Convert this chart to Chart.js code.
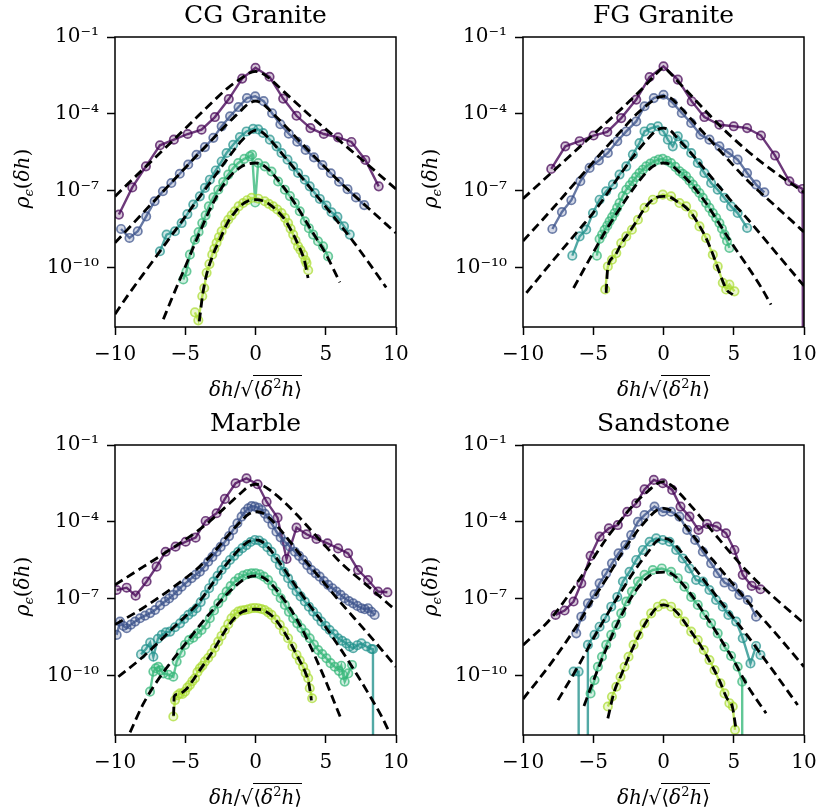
<!DOCTYPE html>
<html><head><meta charset="utf-8">
<script src="https://cdn.jsdelivr.net/npm/chart.js@4.4.1/dist/chart.umd.min.js"></script>
<style>
html,body{margin:0;padding:0;background:#fff;}
#wrap{position:relative;width:818px;height:812px;overflow:hidden;background:#fff;font-family:'DejaVu Serif',serif;color:#000;}
canvas{position:absolute;}
.ttl{position:absolute;width:281px;text-align:center;font-size:25px;line-height:30px;white-space:nowrap;}
.xl{position:absolute;width:281px;text-align:center;font-size:20px;line-height:26px;white-space:nowrap;}
.yl{position:absolute;width:160px;text-align:center;font-size:20px;line-height:26px;white-space:nowrap;transform:rotate(-90deg);}
i{font-style:italic;}
.rad{border-top:1.3px solid #000;padding-top:1px;}
sub{font-size:13px;vertical-align:-4px;}
sup{font-size:13px;vertical-align:8px;}
</style></head><body>
<div id="wrap">
<canvas id="c0" width="409" height="372" style="left:0;top:0"></canvas>
<canvas id="c1" width="409" height="372" style="left:408px;top:0"></canvas>
<canvas id="c2" width="409" height="372" style="left:0;top:408px"></canvas>
<canvas id="c3" width="409" height="372" style="left:408px;top:408px"></canvas>
</div>
<script>
// ---- tick values / labels ----
const X_TICKS = [-10,-5,0,5,10];
const X_TICK_LABELS = ['\u221210','\u22125','0','5','10'];
const Y_TICKS = [1e-10,1e-7,1e-4,1e-1];
const Y_TICK_LABELS = ['10\u207B\u00B9\u2070','10\u207B\u2077','10\u207B\u2074','10\u207B\u00B9'];
const Y_MIN_LOG = -12.3, Y_MAX_LOG = -1;
const TITLES = ['CG Granite','FG Granite','Marble','Sandstone'];
// ---- data: x = δh/sqrt(<δ²h>), y = log10 ρ_ε(δh); -300 marks an empty (zero) bin ----
// CG Granite
const cgX1=[-9.72,-8.77,-7.8,-6.8,-5.81,-4.83,-3.84,-2.89,-1.9,-0.95,0,1.0,1.97,2.92,3.91,4.86,5.88,6.83,7.82,8.77];
const cgY1=[-7.92,-6.86,-6.04,-5.22,-5.0,-4.78,-4.61,-4.12,-3.42,-2.62,-2.2,-2.55,-3.4,-4.07,-4.55,-4.78,-4.91,-5.09,-5.79,-6.82];
const cgX2=[-9.57,-8.97,-8.38,-7.78,-7.18,-6.59,-5.99,-5.39,-4.79,-4.2,-3.6,-3.0,-2.41,-1.81,-1.21,-0.61,-0.02,0.58,1.18,1.77,2.37,2.97,3.57,4.16,4.76,5.36,5.95,6.55,7.15,7.74];
const cgY2=[-8.48,-8.83,-8.57,-7.99,-7.4,-7.01,-6.69,-6.33,-5.97,-5.59,-5.29,-4.93,-4.48,-4.09,-3.73,-3.38,-3.31,-3.5,-3.97,-4.4,-4.77,-5.08,-5.4,-5.69,-5.99,-6.31,-6.64,-6.93,-7.25,-7.55];
const cgX3=[-6.8,-6.33,-5.73,-5.26,-4.85,-4.43,-3.96,-3.6,-3.25,-2.83,-2.41,-2.06,-1.59,-1.11,-0.64,-0.17,0.2,0.54,1.02,1.5,1.85,2.28,2.68,3.03,3.51,3.86,4.22,4.58,5.05,5.41,5.83,6.3,6.71];
const cgY3=[-9.35,-8.7,-8.57,-8.25,-7.9,-7.53,-7.21,-6.88,-6.56,-6.2,-5.85,-5.52,-5.2,-4.9,-4.68,-4.58,-4.6,-4.74,-5.0,-5.26,-5.52,-5.78,-6.04,-6.3,-6.56,-6.82,-7.08,-7.31,-7.57,-7.83,-8.01,-8.38,-8.7];
const cgX4=[-5.14,-4.91,-4.67,-4.31,-4.05,-3.79,-3.55,-3.32,-3.0,-2.65,-2.3,-1.94,-1.6,-1.23,-0.8,-0.4,-0.24,-0.02,0.19,0.66,1.14,1.61,2.09,2.45,2.8,3.15,3.51,3.8,4.1,4.45,4.81,5.17];
const cgY4=[-10.45,-10.13,-9.48,-8.9,-8.6,-8.25,-7.95,-7.6,-7.25,-6.95,-6.65,-6.36,-6.12,-5.91,-5.75,-5.65,-5.59,-7.45,-5.91,-6.04,-6.24,-6.63,-6.95,-7.2,-7.47,-7.79,-8.18,-8.45,-8.7,-8.96,-9.16,-9.55];
const cgX5=[-4.31,-4.07,-3.79,-3.65,-3.48,-3.28,-3.08,-2.93,-2.77,-2.6,-2.41,-2.15,-1.94,-1.7,-1.47,-1.2,-0.88,-0.6,-0.28,0.2,0.66,0.95,1.26,1.55,1.85,2.1,2.32,2.5,2.68,2.85,3.03,3.2,3.39,3.55,3.63,3.75];
const cgY5=[-11.73,-12.04,-11.1,-10.78,-10.19,-9.85,-9.48,-9.25,-9.02,-8.8,-8.57,-8.3,-8.12,-7.95,-7.79,-7.6,-7.47,-7.36,-7.27,-7.3,-7.4,-7.5,-7.6,-7.72,-7.86,-8.05,-8.25,-8.47,-8.7,-8.93,-9.16,-9.3,-9.48,-9.7,-9.81,-10.09];
const cgFX1=[-10,-8,-6,-4,-3,-2,-1,-0.5,0,0.5,1,2,3,4,6,8,10];
const cgFY1=[-7.21,-6.15,-5.1,-4.03,-3.5,-3.0,-2.6,-2.42,-2.34,-2.42,-2.62,-3.12,-3.62,-4.12,-5.05,-5.98,-6.93];
const cgFX2=[-10,-8,-6,-4,-3,-2,-1,-0.5,0,0.5,1,2,3,4,5,6,8,10];
const cgFY2=[-9.02,-7.85,-6.68,-5.52,-4.95,-4.38,-3.85,-3.6,-3.5,-3.6,-3.85,-4.4,-4.98,-5.55,-6.1,-6.65,-7.65,-8.64];
const cgFX3=[-10,-9,-8,-7,-6,-5,-4,-3,-2,-1,-0.5,0,0.5,1,2,3,4,5,6,7,8,9.3];
const cgFY3=[-11.8,-11.0,-10.25,-9.5,-8.75,-8.0,-7.25,-6.5,-5.75,-5.05,-4.78,-4.64,-4.72,-4.98,-5.62,-6.28,-6.95,-7.62,-8.3,-9.0,-9.75,-10.76];
const cgFX4=[-6.56,-6,-5,-4,-3,-2,-1,-0.5,0,0.5,1,2,3,4,5,6];
const cgFY4=[-12.0,-11.25,-9.95,-8.65,-7.45,-6.55,-6.05,-5.94,-5.91,-5.98,-6.2,-6.85,-7.65,-8.55,-9.45,-10.56];
const cgFX5=[-4.0,-3.75,-3.5,-3,-2.5,-2,-1.5,-1,-0.5,0,0.5,1,1.5,2,2.5,3,3.5,3.74];
const cgFY5=[-12.08,-11.0,-10.3,-9.45,-8.85,-8.25,-7.85,-7.55,-7.38,-7.34,-7.38,-7.52,-7.75,-8.05,-8.5,-9.05,-9.75,-10.39];
// FG Granite
const fgX1=[-7.99,-6.99,-5.97,-4.98,-4.0,-3.01,-1.94,-0.99,0,1.02,2.01,2.91,3.98,5.0,5.95,6.94,7.94,8.96,9.9,10.9];
const fgY1=[-6.14,-5.26,-5.06,-4.84,-4.7,-4.16,-3.44,-2.56,-2.14,-2.66,-3.51,-4.12,-4.42,-4.48,-4.55,-4.84,-5.62,-6.62,-6.92,-300];
const fgX2=[-7.91,-7.23,-6.56,-5.92,-5.26,-4.6,-3.96,-3.29,-2.65,-1.94,-1.35,-0.69,0,0.66,1.3,1.97,2.63,3.27,3.98,4.64,5.28,5.95,6.59,7.18];
const fgY2=[-8.48,-7.82,-7.36,-6.62,-6.1,-5.81,-5.52,-5.06,-4.68,-4.29,-3.7,-3.38,-3.25,-3.57,-3.96,-4.35,-4.81,-5.0,-5.26,-5.52,-5.78,-6.3,-6.75,-7.05];
const fgX3=[-6.49,-5.97,-5.5,-5.02,-4.55,-4.08,-3.6,-3.13,-2.65,-2.18,-1.71,-1.35,-0.88,-0.4,0,0.31,0.66,1.02,1.49,1.97,2.44,2.91,3.39,3.86,4.34,4.81,5.28,5.95];
const fgY3=[-9.52,-8.77,-8.5,-7.86,-7.34,-7.01,-6.75,-6.36,-6.04,-5.58,-5.13,-4.68,-4.55,-4.48,-4.68,-5.0,-5.26,-4.87,-5.19,-5.52,-5.91,-6.3,-6.69,-6.95,-7.27,-7.6,-7.86,-8.44];
const fgX4=[-4.74,-4.55,-4.37,-4.19,-4.0,-3.84,-3.66,-3.48,-3.3,-3.13,-2.9,-2.65,-2.4,-2.18,-1.95,-1.71,-1.47,-1.23,-0.94,-0.64,-0.35,-0.05,0.25,0.54,0.84,1.14,1.37,1.61,1.85,2.09,2.32,2.56,2.8,3.03,3.27,3.51,3.75,3.98,4.16,4.34,4.52,4.69];
const fgY4=[-9.52,-8.87,-8.7,-8.51,-8.35,-8.18,-8.02,-7.86,-7.66,-7.47,-7.2,-6.95,-6.78,-6.62,-6.46,-6.3,-6.17,-6.04,-5.93,-5.84,-5.78,-5.75,-5.82,-5.91,-6.06,-6.23,-6.33,-6.43,-6.6,-6.75,-6.92,-7.08,-7.27,-7.47,-7.66,-7.86,-8.05,-8.25,-8.47,-8.7,-8.95,-9.22];
const fgX5=[-4.15,-3.96,-3.67,-3.36,-3.01,-2.65,-2.25,-1.82,-1.35,-0.76,-0.05,0.54,1.14,1.61,2.09,2.56,3.03,3.51,3.86,4.22,4.46,4.69,5.05];
const fgY5=[-10.84,-9.94,-9.68,-9.42,-9.03,-8.77,-8.51,-8.12,-7.66,-7.34,-7.14,-7.21,-7.47,-7.6,-7.92,-8.38,-8.83,-9.48,-9.94,-10.58,-10.84,-10.65,-10.91];
const fgFX1=[-10,-8,-6,-4,-3,-2,-1,-0.5,0,0.5,1,2,3,4,6,8,10];
const fgFY1=[-7.3,-6.3,-5.3,-4.3,-3.8,-3.28,-2.72,-2.42,-2.21,-2.42,-2.72,-3.3,-3.88,-4.45,-5.45,-6.3,-7.05];
const fgFX2=[-10,-8,-6,-4,-3,-2,-1,-0.5,0,0.5,1,2,3,4,6,8,10];
const fgFY2=[-8.95,-7.75,-6.5,-5.25,-4.65,-4.05,-3.58,-3.38,-3.31,-3.38,-3.62,-4.22,-4.82,-5.42,-6.6,-7.6,-8.6];
const fgFX3=[-9.76,-8,-6,-5,-4,-3,-2,-1,-0.5,0,0.5,1,2,3,4,5,6,8,10];
const fgFY3=[-10.97,-9.8,-8.5,-7.85,-7.1,-6.3,-5.55,-4.9,-4.63,-4.55,-4.65,-4.95,-5.55,-6.2,-6.85,-7.5,-8.1,-9.4,-10.7];
const fgFX4=[-6.4,-5,-4,-3,-2,-1,-0.5,0,0.5,1,2,3,4,5,6,7,7.65];
const fgFY4=[-10.78,-9.4,-8.45,-7.6,-6.8,-6.15,-5.97,-5.91,-5.97,-6.2,-6.75,-7.45,-8.3,-9.15,-9.95,-10.8,-11.43];
const fgFX5=[-4.08,-3.97,-3.5,-3,-2.5,-2,-1.5,-1,-0.5,0,0.5,1,1.5,2,2.5,3,3.5,4,4.5,4.93];
const fgFY5=[-10.97,-10.0,-9.55,-9.05,-8.65,-8.25,-7.8,-7.45,-7.25,-7.21,-7.25,-7.42,-7.6,-7.88,-8.3,-8.8,-9.45,-10.2,-10.85,-11.04];
// Marble
const mbX1=[-9.88,-9.17,-8.53,-7.75,-7.04,-6.4,-5.69,-4.97,-4.26,-3.55,-2.77,-2.18,-1.42,-0.64,0.15,0.79,1.57,2.21,2.92,3.63,4.34,5.12,5.88,6.59,7.3,8.01,8.72,9.39];
const mbY1=[-6.65,-6.56,-6.87,-6.32,-5.74,-5.16,-4.96,-4.77,-4.61,-3.96,-3.66,-3.1,-2.49,-2.3,-2.53,-3.21,-3.83,-5.44,-4.22,-4.48,-4.66,-4.83,-5.03,-5.22,-5.87,-6.26,-6.71,-6.74];
const mbX2=[-9.88,-9.64,-9.4,-9.17,-8.87,-8.57,-8.22,-7.86,-7.5,-7.15,-6.8,-6.44,-6.15,-5.85,-5.55,-5.26,-4.9,-4.55,-4.25,-3.96,-3.66,-3.37,-3.07,-2.77,-2.48,-2.18,-1.88,-1.59,-1.29,-0.99,-0.75,-0.52,-0.28,-0.05,0.2,0.43,0.67,0.9,1.2,1.49,1.79,2.09,2.45,2.8,3.1,3.39,3.68,3.98,4.28,4.57,4.87,5.17,5.47,5.76,6.06,6.35,6.65,6.95,7.25,7.54,7.78,8.01,8.25,8.48];
const mbY2=[-8.4,-7.88,-8.05,-8.14,-8.0,-7.88,-7.75,-7.65,-7.55,-7.43,-7.25,-7.1,-6.98,-6.84,-6.68,-6.52,-6.35,-6.19,-6.05,-5.94,-5.75,-5.55,-5.36,-5.16,-4.97,-4.77,-4.55,-4.31,-4.05,-3.79,-3.6,-3.47,-3.38,-3.4,-3.45,-3.53,-3.68,-3.86,-4.1,-4.38,-4.6,-4.77,-4.96,-5.16,-5.32,-5.48,-5.68,-5.87,-6.0,-6.13,-6.3,-6.45,-6.58,-6.71,-6.84,-6.97,-7.08,-7.17,-7.27,-7.36,-7.4,-7.36,-7.5,-7.62];
const mbX3=[-8.15,-7.8,-7.5,-7.27,-6.95,-6.67,-6.38,-6.08,-5.73,-5.37,-5.08,-4.78,-4.48,-4.19,-3.9,-3.6,-3.3,-3.0,-2.7,-2.41,-2.11,-1.82,-1.52,-1.23,-0.94,-0.64,-0.35,-0.05,0.25,0.54,0.84,1.14,1.43,1.73,2.02,2.32,2.62,2.92,3.21,3.51,3.8,4.1,4.4,4.69,4.99,5.28,5.58,5.88,6.17,6.47,6.7,6.95,7.25,7.54,7.9,8.25,8.36,8.7];
const mbY3=[-9.16,-8.95,-8.7,-9.25,-8.55,-8.4,-8.3,-8.27,-8.1,-7.95,-7.78,-7.62,-7.5,-7.36,-7.12,-6.84,-6.58,-6.32,-6.1,-5.87,-5.67,-5.48,-5.32,-5.16,-5.02,-4.9,-4.78,-4.7,-4.72,-4.83,-4.98,-5.16,-5.42,-5.68,-5.94,-6.19,-6.45,-6.71,-6.9,-7.1,-7.3,-7.49,-7.68,-7.88,-8.05,-8.21,-8.37,-8.53,-8.63,-8.73,-8.85,-8.92,-8.8,-8.73,-8.85,-8.95,-8.96,-300];
const mbX4=[-7.51,-7.27,-7.1,-6.92,-6.74,-6.56,-6.2,-5.85,-5.61,-5.32,-5.02,-4.73,-4.43,-4.14,-3.84,-3.55,-3.25,-2.95,-2.65,-2.36,-2.06,-1.77,-1.47,-1.18,-0.88,-0.58,-0.28,0.01,0.31,0.6,0.9,1.2,1.49,1.79,2.09,2.38,2.68,2.97,3.27,3.56,3.86,4.16,4.46,4.75,5.05,5.34,5.64,5.94,6.1,6.23,6.35,6.6,6.87];
const mbY4=[-10.61,-9.83,-9.7,-9.64,-9.78,-9.9,-9.95,-10.03,-9.44,-9.1,-8.79,-8.6,-8.51,-8.35,-8.21,-8.0,-7.75,-7.45,-7.17,-6.95,-6.71,-6.5,-6.32,-6.18,-6.09,-6.03,-6.0,-6.0,-6.04,-6.13,-6.26,-6.48,-6.71,-6.97,-7.23,-7.5,-7.75,-7.95,-8.14,-8.33,-8.53,-8.78,-8.99,-9.15,-9.31,-9.5,-9.64,-9.8,-9.6,-9.96,-10.22,-9.9,-9.57];
const mbX5=[-5.85,-5.73,-5.55,-5.37,-5.2,-5.02,-4.85,-4.67,-4.49,-4.31,-4.13,-3.96,-3.78,-3.6,-3.37,-3.13,-2.89,-2.65,-2.42,-2.18,-1.94,-1.71,-1.47,-1.23,-1.0,-0.76,-0.52,-0.28,-0.05,0.19,0.42,0.66,0.9,1.14,1.43,1.73,2.02,2.32,2.62,2.92,3.15,3.39,3.57,3.75,3.86,4.03];
const mbY5=[-11.58,-10.94,-10.75,-10.68,-10.7,-10.61,-10.45,-10.35,-10.2,-10.09,-9.85,-9.7,-9.6,-9.44,-9.3,-9.12,-8.9,-8.66,-8.44,-8.21,-7.98,-7.75,-7.6,-7.49,-7.45,-7.43,-7.4,-7.36,-7.35,-7.36,-7.39,-7.43,-7.52,-7.62,-7.8,-8.01,-8.26,-8.53,-8.85,-9.18,-9.4,-9.64,-9.88,-10.09,-10.48,-10.87];
const mbFX1=[-10,-8,-6,-4,-3,-2,-1,-0.5,0,0.5,1,2,3,4,5,6,8,10];
const mbFY1=[-6.45,-5.75,-5.05,-4.3,-3.85,-3.35,-2.85,-2.62,-2.53,-2.58,-2.75,-3.2,-3.75,-4.35,-4.95,-5.55,-6.5,-7.45];
const mbFX2=[-10,-8,-6,-4,-3,-2,-1,-0.5,0,0.5,1,2,3,4,5,6,8,10];
const mbFY2=[-8.0,-7.35,-6.6,-5.75,-5.2,-4.55,-3.95,-3.7,-3.6,-3.65,-3.85,-4.45,-5.15,-5.8,-6.45,-7.1,-8.35,-9.64];
const mbFX3=[-9.76,-8,-6,-4,-3,-2,-1,-0.5,0,0.5,1,2,3,4,5,6,7,8,9,9.55];
const mbFY3=[-10.03,-9.25,-8.2,-7.1,-6.35,-5.6,-4.98,-4.76,-4.7,-4.78,-5.05,-5.8,-6.6,-7.35,-8.1,-8.9,-9.75,-10.65,-11.6,-12.23];
const mbFX4=[-8.93,-8,-7,-6,-5,-4,-3,-2,-1,-0.5,0,0.5,1,2,3,4,5,6,6.12];
const mbFY4=[-12.2,-11.1,-10.2,-9.45,-8.75,-8.05,-7.4,-6.8,-6.3,-6.15,-6.1,-6.15,-6.35,-7.0,-7.85,-8.95,-10.2,-11.55,-11.71];
const mbFX5=[-5.83,-5.79,-5.6,-5,-4,-3,-2,-1.5,-1,-0.5,0,0.5,1,1.5,2,2.5,3,3.5,3.8,3.98];
const mbFY5=[-11.55,-10.8,-10.72,-10.55,-9.8,-9.0,-8.1,-7.75,-7.52,-7.42,-7.4,-7.43,-7.58,-7.85,-8.25,-8.72,-9.25,-9.8,-10.3,-10.95];
// Sandstone
const ssX1=[-7.68,-7.04,-6.4,-5.85,-5.19,-4.55,-3.89,-3.25,-2.58,-1.94,-1.35,-0.69,-0.05,0.62,1.21,1.85,2.49,3.1,3.79,4.45,5.05,5.64,6.28,6.9];
const ssY1=[-7.62,-7.45,-7.1,-6.39,-5.32,-4.57,-4.25,-4.12,-3.6,-3.27,-2.73,-2.36,-2.49,-2.75,-3.4,-3.79,-4.31,-4.08,-4.18,-4.44,-5.09,-6.06,-6.49,-6.62];
const ssX2=[-6.21,-5.85,-5.38,-4.91,-4.55,-4.08,-3.67,-3.2,-2.72,-2.3,-1.82,-1.35,-0.64,-0.05,0.54,1.14,1.68,2.25,2.8,3.39,3.86,4.34,4.93,5.4,6.0,6.59];
const ssY2=[-8.34,-7.69,-7.17,-6.82,-6.39,-6.0,-5.61,-5.22,-4.9,-4.51,-3.99,-3.73,-3.4,-3.6,-3.6,-3.79,-4.31,-4.7,-5.16,-5.61,-6.0,-6.36,-6.52,-6.84,-7.04,-7.69];
const ssX3=[-6.4,-6.04,-5.71,-5.38,-4.91,-4.55,-4.15,-3.72,-3.29,-2.89,-2.42,-1.94,-1.47,-0.99,-0.52,-0.05,0.43,0.9,1.37,1.85,2.32,2.8,3.27,3.74,4.22,4.62,5.17,5.64,6.19,6.59,6.9];
const ssY3=[-9.83,-9.83,-300,-8.79,-8.4,-8.08,-7.75,-7.3,-6.92,-6.32,-5.94,-5.48,-5.09,-4.77,-4.64,-4.7,-4.77,-5.09,-5.42,-5.81,-6.26,-6.32,-6.65,-7.04,-7.3,-7.62,-7.88,-8.53,-9.51,-8.83,-9.18];
const ssX4=[-5.19,-4.91,-4.67,-4.38,-4.08,-3.72,-3.36,-3.01,-2.65,-2.25,-1.82,-1.35,-0.76,-0.12,0.54,1.02,1.49,1.97,2.44,2.91,3.39,3.86,4.34,4.81,5.28,5.6,5.95];
const ssY4=[-10.68,-10.16,-9.64,-9.25,-8.79,-8.4,-8.01,-7.56,-7.1,-6.71,-6.32,-6.06,-5.87,-5.81,-5.94,-6.19,-6.52,-6.92,-7.23,-7.62,-7.95,-8.34,-8.86,-9.22,-9.64,-10.22,-300];
const ssX5=[-3.96,-3.67,-3.36,-3.06,-2.77,-2.49,-2.13,-1.78,-1.35,-0.88,-0.4,0,0.54,1.02,1.49,1.97,2.44,2.87,3.27,3.63,4.05,4.34,4.69,4.93,5.09];
const ssY5=[-11.19,-10.81,-10.42,-10.03,-9.64,-9.25,-8.79,-8.4,-7.95,-7.56,-7.3,-7.19,-7.3,-7.56,-7.88,-8.27,-8.6,-8.99,-9.38,-9.77,-10.29,-10.68,-11.06,-11.19,-12.1];
const ssFX1=[-10,-8,-6,-4,-3,-2,-1,-0.5,0,0.5,1,2,3,4,5,6,7,8,10];
const ssFY1=[-8.8,-7.75,-6.25,-4.6,-3.9,-3.25,-2.75,-2.52,-2.43,-2.55,-2.8,-3.4,-4.05,-4.7,-5.35,-5.95,-6.5,-7.0,-7.95];
const ssFX2=[-10,-8,-6,-5,-4,-3,-2,-1,-0.5,0,0.5,1,2,3,4,5,6,8,10];
const ssFY2=[-10.9,-9.5,-7.9,-7.0,-6.15,-5.25,-4.45,-3.8,-3.55,-3.47,-3.55,-3.8,-4.45,-5.15,-5.8,-6.45,-7.1,-8.35,-9.64];
const ssFX3=[-7.51,-6,-5,-4,-3,-2,-1,-0.5,0,0.5,1,2,3,4,5,6,7,8,9.55];
const ssFY3=[-10.94,-9.55,-8.55,-7.6,-6.7,-5.85,-5.1,-4.75,-4.64,-4.72,-5.0,-5.65,-6.35,-7.05,-7.75,-8.45,-9.2,-9.95,-11.13];
const ssFX4=[-5.66,-5,-4,-3,-2,-1,-0.5,0,0.5,1,2,3,4,5,6,7.3];
const ssFY4=[-11.17,-10.2,-8.85,-7.65,-6.7,-6.1,-5.97,-5.95,-6.0,-6.2,-6.85,-7.65,-8.5,-9.4,-10.4,-11.45];
const ssFX5=[-3.96,-3.5,-3,-2.5,-2,-1.5,-1,-0.5,0,0.5,1,1.5,2,2.5,3,3.5,4,4.5,4.9,5.17];
const ssFY5=[-11.65,-10.6,-9.95,-9.3,-8.7,-8.15,-7.7,-7.35,-7.23,-7.32,-7.55,-7.9,-8.3,-8.7,-9.15,-9.65,-10.2,-10.85,-11.2,-12.1];

// ---- styling ----
const LINE_RGB = [[68,1,84],[59,82,139],[33,145,140],[53,183,121],[170,220,50]];
const FONT = "'DejaVu Serif', serif";

const PANELS = [
  {data:[[cgX1,cgY1],[cgX2,cgY2],[cgX3,cgY3],[cgX4,cgY4],[cgX5,cgY5]], fits:[[cgFX1,cgFY1],[cgFX2,cgFY2],[cgFX3,cgFY3],[cgFX4,cgFY4],[cgFX5,cgFY5]]},
  {data:[[fgX1,fgY1],[fgX2,fgY2],[fgX3,fgY3],[fgX4,fgY4],[fgX5,fgY5]], fits:[[fgFX1,fgFY1],[fgFX2,fgFY2],[fgFX3,fgFY3],[fgFX4,fgFY4],[fgFX5,fgFY5]]},
  {data:[[mbX1,mbY1],[mbX2,mbY2],[mbX3,mbY3],[mbX4,mbY4],[mbX5,mbY5]], fits:[[mbFX1,mbFY1],[mbFX2,mbFY2],[mbFX3,mbFY3],[mbFX4,mbFY4],[mbFX5,mbFY5]]},
  {data:[[ssX1,ssY1],[ssX2,ssY2],[ssX3,ssY3],[ssX4,ssY4],[ssX5,ssY5]], fits:[[ssFX1,ssFY1],[ssFX2,ssFY2],[ssFX3,ssFY3],[ssFX4,ssFY4],[ssFX5,ssFY5]]}
];

function pts(xs, ys){ return xs.map((x,i)=>({x:x, y:Math.pow(10, ys[i])})); }
function rgba(c,a){ return 'rgba('+c[0]+','+c[1]+','+c[2]+','+a+')'; }

const frame = {
  id:'frame',
  afterDatasetsDraw(chart){
    const a = chart.chartArea, ctx = chart.ctx;
    ctx.save(); ctx.strokeStyle='#000'; ctx.lineWidth=1.5;
    ctx.strokeRect(a.left, a.top, a.right-a.left, a.bottom-a.top);
    ctx.restore();
  }
};
function zeroPad(s){ s.paddingLeft=0; s.paddingRight=0; s.paddingTop=0; s.paddingBottom=0; }

PANELS.forEach((p, k)=>{
  const ds = [];
  for (let i=4;i>=0;i--){
    ds.push({data:pts(p.fits[i][0], p.fits[i][1]), showLine:true, borderColor:'#000', borderWidth:2.8,
      borderDash:[9,5], pointRadius:0, cubicInterpolationMode:'monotone', fill:false});
  }
  for (let i=4;i>=0;i--){
    const c = LINE_RGB[i];
    ds.push({data:pts(p.data[i][0], p.data[i][1]), showLine:true, borderColor:rgba(c,0.78), borderWidth:2.4,
      pointRadius:4.2, pointBorderWidth:1.7, pointBorderColor:rgba(c,0.72), pointBackgroundColor:rgba(c,0.22),
      tension:0, fill:false});
  }
  new Chart(document.getElementById('c'+k), {
    type:'scatter',
    data:{datasets:ds},
    options:{
      responsive:false, animation:false, devicePixelRatio:1,
      layout:{padding:{top:37,right:13,left:0,bottom:0}},
      plugins:{legend:{display:false}, tooltip:{enabled:false}},
      scales:{
        x:{type:'linear', min:-10, max:10,
           afterBuildTicks:(s)=>{ s.ticks = X_TICKS.map(v=>({value:v})); },
           afterFit:(s)=>{ s.height = 45; zeroPad(s); },
           ticks:{autoSkip:false, maxRotation:0, padding:8, color:'#000', font:{family:FONT, size:20},
                  callback:(v,i)=>X_TICK_LABELS[i]},
           grid:{drawOnChartArea:false, drawTicks:true, tickLength:8, tickColor:'#000', tickWidth:1.5},
           border:{display:false}},
        y:{type:'logarithmic', min:Math.pow(10,Y_MIN_LOG), max:Math.pow(10,Y_MAX_LOG),
           afterBuildTicks:(s)=>{ s.ticks = Y_TICKS.map(v=>({value:v})); },
           afterFit:(s)=>{ s.width = 115; zeroPad(s); },
           ticks:{autoSkip:false, padding:8, color:'#000', font:{family:FONT, size:20},
                  callback:(v,i)=>Y_TICK_LABELS[i]},
           grid:{drawOnChartArea:false, drawTicks:true, tickLength:8, tickColor:'#000', tickWidth:1.5},
           border:{display:false}}
      }
    },
    plugins:[frame]
  });
});

// ---- text labels ----
const wrap = document.getElementById('wrap');
const OFFS = [[0,0],[408,0],[0,408],[408,408]];
OFFS.forEach((o,k)=>{
  const t = document.createElement('div'); t.className='ttl';
  t.style.left=(o[0]+115)+'px'; t.style.top=(o[1]+0)+'px'; t.textContent=TITLES[k]; wrap.appendChild(t);
  const xl = document.createElement('div'); xl.className='xl';
  xl.style.left=(o[0]+115)+'px'; xl.style.top=(o[1]+371)+'px';
  xl.innerHTML='<i>δh</i>/√<span class="rad">⟨<i>δ</i><sup>2</sup><i>h</i>⟩</span>'; wrap.appendChild(xl);
  const yl = document.createElement('div'); yl.className='yl';
  yl.style.left=(o[0]+25-80)+'px'; yl.style.top=(o[1]+175-13)+'px';
  yl.innerHTML='<i>ρ</i><sub><i>ϵ</i></sub>(<i>δh</i>)'; wrap.appendChild(yl);
});
</script>
</body></html>
